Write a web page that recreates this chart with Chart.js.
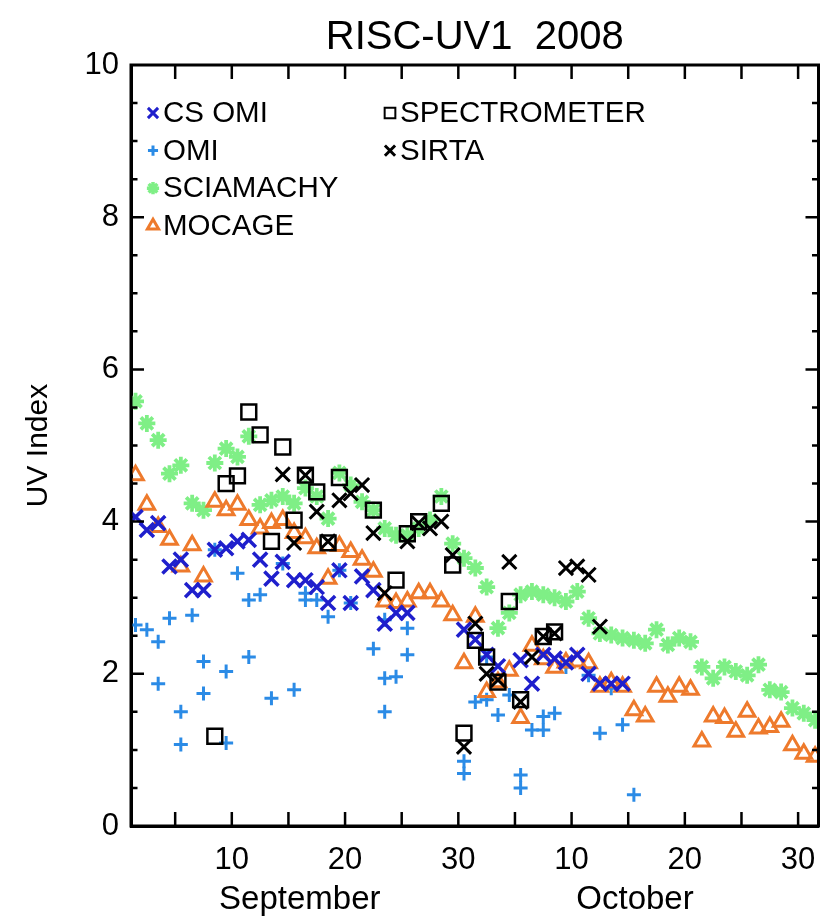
<!DOCTYPE html>
<html>
<head>
<meta charset="utf-8">
<script src="https://cdn.jsdelivr.net/npm/chart.js@4.4.1/dist/chart.umd.min.js"></script>
<style>
  html, body { margin: 0; padding: 0; background: #fff; }
  #wrap { width: 832px; height: 923px; }
</style>
</head>
<body>
<div id="wrap"><canvas id="chart" width="832" height="923"></canvas></div>
<script>
// days counted from 1 September 2008 (Oct 1 = 31)
const dailyDays = [1.5, 2.5, 3.5, 4.5, 5.5, 6.5, 7.5, 8.5, 9.5, 10.5,
  11.5, 12.5, 13.5, 14.5, 15.5, 16.5, 17.5, 18.5, 19.5, 20.5,
  21.5, 22.5, 23.5, 24.5, 25.5, 26.5, 27.5, 28.5, 29.5, 30.5,
  31.5, 32.5, 33.5, 34.5, 35.5, 36.5, 37.5, 38.5, 39.5, 40.5,
  41.5, 42.5, 43.5, 44.5, 45.5, 46.5, 47.5, 48.5, 49.5, 50.5,
  51.5, 52.5, 53.5, 54.5, 55.5, 56.5, 57.5, 58.5, 59.5, 60.5, 61.5];

const sciaUV = [5.58, 5.29, 5.07, 4.63, 4.74, 4.24, 4.15, 4.77, 4.96, 4.85,
  5.12, 4.22, 4.28, 4.33, 4.24, 4.44, 4.33, 4.04, 4.64, 4.48,
  4.26, 4.15, 3.91, 3.82, 3.82, 3.91, 4.02, 4.33, 3.71, 3.52,
  3.39, 3.14, 2.60, 2.80, 3.04, 3.08, 3.04, 3.00, 2.95, 3.08,
  2.73, 2.53, 2.51, 2.47, 2.44, 2.40, 2.58, 2.38, 2.47, 2.42,
  2.09, 1.94, 2.09, 2.03, 1.98, 2.12, 1.79, 1.76, 1.55, 1.48, 1.39];

const mocageUV = [4.61, 4.22, 3.93, 3.76, 3.41, 3.69, 3.28, 4.26, 4.15, 4.22,
  4.02, 3.91, 3.98, 4.02, 3.85, 3.78, 3.65, 3.25, 3.68, 3.60,
  3.50, 3.34, 2.95, 2.93, 2.95, 3.06, 3.06, 2.95, 2.77, 2.14,
  2.75, 1.76, 1.89, 2.04, 1.42, 2.37, 2.19, 2.08, 2.15, 2.16,
  2.14, 1.83, 1.89, 1.83, 1.52, 1.44, 1.83, 1.70, 1.83, 1.79,
  1.11, 1.44, 1.42, 1.24, 1.50, 1.28, 1.30, 1.37, 1.06, 0.95, 0.91];

const csOmiDays = [1.5, 2.5, 3.5, 4.5, 5.5, 6.5, 7.5, 8.5, 9.5, 10.5,
  11.5, 12.5, 13.5, 14.5, 15.5, 16.5, 17.5, 18.5, 19.5, 20.5,
  21.5, 22.5, 23.5, 24.5, 25.5, 30.5, 31.5, 32.5, 33.5, 35.5,
  36.5, 37.5, 38.5, 39.5, 40.5, 41.5, 42.5, 43.5, 44.5];
const csOmiUV = [4.06, 3.89, 3.98, 3.41, 3.50, 3.10, 3.10, 3.63, 3.65, 3.74,
  3.76, 3.50, 3.25, 3.47, 3.23, 3.23, 3.14, 2.93, 3.36, 2.93,
  3.28, 3.10, 2.66, 2.80, 2.80, 2.58, 2.45, 2.25, 2.10, 2.18,
  1.87, 2.25, 2.20, 2.15, 2.25, 2.00, 1.87, 1.87, 1.87];

const omiDays = [1.5, 2.5, 3.5, 3.5, 4.5, 5.5, 5.5, 6.5, 7.5, 7.5,
  8.5, 9.5, 9.5, 10.5, 11.5, 11.5, 12.5, 13.5, 14.5, 15.5,
  16.5, 16.5, 17.5, 18.5, 19.5, 20.5, 22.5, 23.5, 23.5, 23.5,
  24.5, 25.5, 25.5, 30.5, 30.5, 31.5, 32.5, 32.5, 33.5, 34.5,
  35.5, 35.5, 36.5, 37.5, 37.5, 38.5, 39.5, 41.5, 42.5, 43.5,
  44.5, 45.5];
const omiUV = [2.64, 2.58, 2.42, 1.87, 2.73, 1.50, 1.07, 2.77, 2.16, 1.74,
  3.63, 2.03, 1.09, 3.32, 2.22, 2.97, 3.04, 1.68, 3.45, 1.79,
  3.06, 2.97, 2.97, 2.75, 3.36, 2.93, 2.33, 2.71, 1.94, 1.50,
  1.96, 2.60, 2.25, 0.85, 0.69, 1.63, 1.66, 2.22, 1.46, 1.72,
  0.67, 0.50, 1.26, 1.44, 1.26, 1.48, 2.09, 1.98, 1.22, 1.81,
  1.33, 0.41];

const spectroDays = [8.5, 9.5, 10.5, 11.5, 12.5, 13.5, 14.5, 15.5, 16.5, 17.5,
  18.5, 19.5, 22.5, 24.5, 25.5, 26.5, 28.5, 29.5, 30.5, 31.5,
  32.5, 33.5, 34.5, 35.5, 37.5, 38.5];
const spectroUV = [1.18, 4.50, 4.60, 5.44, 5.14, 3.74, 4.98, 4.02, 4.61, 4.39,
  3.72, 4.58, 4.15, 3.23, 3.84, 4.00, 4.24, 3.43, 1.22, 2.44,
  2.22, 1.89, 2.95, 1.66, 2.49, 2.55];

const sirtaDays = [14.5, 15.5, 16.5, 17.5, 18.5, 19.5, 20.5, 21.5, 22.5, 23.5,
  25.5, 26.5, 27.5, 28.5, 29.5, 30.5, 31.5, 32.5, 33.5, 34.5,
  35.5, 36.5, 37.5, 38.5, 39.5, 40.5, 41.5, 42.5];
const sirtaUV = [4.62, 3.72, 4.61, 4.13, 3.74, 4.28, 4.37, 4.48, 3.85, 3.06,
  3.74, 3.98, 3.91, 4.00, 3.56, 1.04, 2.66, 2.00, 1.92, 3.47,
  1.63, 2.22, 2.49, 2.53, 3.39, 3.41, 3.30, 2.62];

const xTickDays = [10, 20, 30, 40, 50, 60];
const xTickLabels = ['10', '20', '30', '10', '20', '30'];
const monthDays = [16, 45.6];
const monthLabels = ['September', 'October'];
const chartTitle = 'RISC-UV1  2008';

const FONT = "'Liberation Sans', Arial, Helvetica, sans-serif";

const pts = (xs, ys) => xs.map((x, i) => ({ x, y: ys[i] }));

const series = [
  { label: 'SIRTA', data: pts(sirtaDays, sirtaUV), color: '#000000', style: 'crossRot', r: 10, w: 3, order: 1 },
  { label: 'SPECTROMETER', data: pts(spectroDays, spectroUV), color: '#000000', style: 'rect', r: 10.5, w: 2.5, order: 2 },
  { label: 'CS OMI', data: pts(csOmiDays, csOmiUV), color: '#1f1fcc', style: 'crossRot', r: 10, w: 3.5, order: 3 },
  { label: 'MOCAGE', data: pts(dailyDays, mocageUV), color: '#ee7a2c', style: 'triangle', r: 9, w: 3, order: 4 },
  { label: 'OMI', data: pts(omiDays, omiUV), color: '#2b8be6', style: 'cross', r: 7, w: 3, order: 5 },
  { label: 'SCIAMACHY', data: pts(dailyDays, sciaUV), color: '#7fef86', style: 'star', r: 8.5, w: 3.8, order: 6 }
];

const legendCols = [['CS OMI', 'OMI', 'SCIAMACHY', 'MOCAGE'], ['SPECTROMETER', 'SIRTA']];

// inward ticks on all four sides, frame and title
const frameTicks = {
  id: 'frameTicks',
  afterDraw(chart) {
    const { ctx, chartArea: a, scales: { x, y } } = chart;
    ctx.save();
    ctx.strokeStyle = '#000';
    ctx.lineWidth = 2.5;
    ctx.beginPath();
    for (let d = 5; d < x.max; d += 5) {
      const px = x.getPixelForValue(d);
      ctx.moveTo(px, a.bottom); ctx.lineTo(px, a.bottom - 14);
      ctx.moveTo(px, a.top); ctx.lineTo(px, a.top + 14);
    }
    for (let v = 0.5; v < 10; v += 0.5) {
      const py = y.getPixelForValue(v);
      const len = v % 2 === 0 ? 13 : 6.5;
      ctx.moveTo(a.left, py); ctx.lineTo(a.left + len, py);
      ctx.moveTo(a.right, py); ctx.lineTo(a.right - len, py);
    }
    ctx.stroke();
    ctx.lineWidth = 3;
    ctx.strokeRect(a.left, a.top, a.right - a.left, a.bottom - a.top);
    ctx.fillStyle = '#000';
    ctx.font = '40px ' + FONT;
    ctx.textAlign = 'center';
    ctx.textBaseline = 'middle';
    ctx.fillText(chartTitle, (a.left + a.right) / 2, 38);
    ctx.restore();
  }
};

const insideLegend = {
  id: 'insideLegend',
  afterDraw(chart) {
    const { ctx, chartArea: a } = chart;
    ctx.save();
    ctx.font = '29.5px ' + FONT;
    ctx.textBaseline = 'middle';
    legendCols.forEach((col, c) => {
      const mx = a.left + (c === 0 ? 22 : 259);
      col.forEach((name, r) => {
        const s = series.find((k) => k.label === name);
        const my = a.top + 48 + r * 37.6;
        const bw = s.style === 'star' ? 3.5 : s.style === 'rect' ? 2 : 3;
        ctx.strokeStyle = s.color;
        ctx.fillStyle = 'rgba(0,0,0,0)';
        ctx.lineWidth = bw;
        Chart.helpers.drawPoint(ctx, {
          pointStyle: s.style,
          radius: s.r * 0.72,
          rotation: 0,
          borderWidth: bw
        }, mx, my);
        ctx.fillStyle = '#000';
        ctx.fillText(name, mx + 10, my + 1);
      });
    });
    ctx.restore();
  }
};

new Chart(document.getElementById('chart'), {
  type: 'scatter',
  data: {
    datasets: series.map((s) => ({
      label: s.label,
      data: s.data,
      order: s.order,
      pointStyle: s.style,
      pointRadius: s.r,
      pointHoverRadius: s.r,
      pointBorderWidth: s.w,
      borderColor: s.color,
      backgroundColor: 'rgba(0,0,0,0)',
      pointBackgroundColor: 'rgba(0,0,0,0)'
    }))
  },
  options: {
    responsive: false,
    animation: false,
    layout: { padding: { left: 0, right: 11, top: 65, bottom: 0 } },
    plugins: {
      legend: { display: false },
      tooltip: { enabled: false },
      title: { display: false }
    },
    scales: {
      x: {
        type: 'linear',
        position: 'bottom',
        min: 1.1,
        max: 61.8,
        afterBuildTicks: (s) => { s.ticks = xTickDays.map((v) => ({ value: v })); },
        afterFit: (s) => { s.height = 54; },
        grid: { display: false, drawTicks: false },
        border: { display: true, color: '#000', width: 3 },
        ticks: {
          color: '#000',
          padding: 16,
          maxRotation: 0,
          autoSkip: false,
          font: { family: FONT, size: 31 },
          callback: (v) => xTickLabels[xTickDays.indexOf(v)]
        }
      },
      month: {
        type: 'linear',
        position: 'bottom',
        min: 1.1,
        max: 61.8,
        afterBuildTicks: (s) => { s.ticks = monthDays.map((v) => ({ value: v })); },
        afterFit: (s) => { s.height = 43; },
        grid: { display: false, drawTicks: false },
        border: { display: false },
        ticks: {
          color: '#000',
          padding: 0,
          maxRotation: 0,
          autoSkip: false,
          font: { family: FONT, size: 33 },
          callback: (v) => monthLabels[monthDays.indexOf(v)]
        }
      },
      y: {
        min: 0,
        max: 10,
        afterFit: (s) => { s.width = 131; },
        grid: { display: false, drawTicks: false },
        border: { display: true, color: '#000', width: 3 },
        ticks: {
          stepSize: 2,
          color: '#000',
          padding: 12,
          font: { family: FONT, size: 31 }
        },
        title: {
          display: true,
          text: 'UV Index',
          color: '#000',
          font: { family: FONT, size: 30 },
          padding: { top: 21, bottom: 0 }
        }
      }
    }
  },
  plugins: [frameTicks, insideLegend]
});
</script>
</body>
</html>
